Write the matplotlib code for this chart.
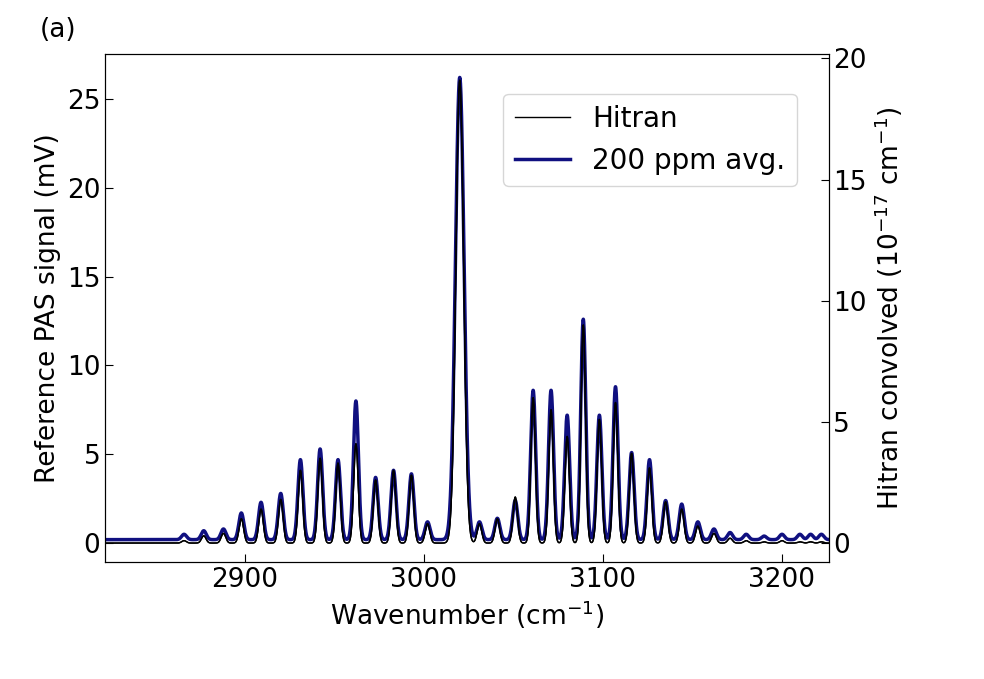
import numpy as np
import matplotlib
matplotlib.use("Agg")
import matplotlib.pyplot as plt

# peak centres (cm-1), PAS peak heights (mV), Hitran heights (1e-17 cm-1)
centers = [2866, 2877, 2888, 2898, 2909, 2920, 2931, 2942, 2952, 2962, 2973, 2983,
           2993, 3002, 3020, 3031, 3041, 3051, 3061, 3071, 3080, 3089, 3098, 3107,
           3116, 3126, 3135, 3144, 3153, 3162, 3171, 3180, 3190, 3200, 3210, 3216, 3222]
pas_mv = [0.3, 0.5, 0.6, 1.5, 2.1, 2.6, 4.5, 5.1, 4.5, 7.8, 3.5, 3.9,
          3.7, 1.0, 26.0, 1.0, 1.2, 2.2, 8.4, 8.4, 7.0, 12.4, 7.0, 8.6,
          4.9, 4.5, 2.2, 2.0, 1.0, 0.6, 0.4, 0.3, 0.2, 0.3, 0.3, 0.3, 0.3]
hitran = [0.1, 0.3, 0.4, 1.0, 1.4, 1.8, 3.0, 3.5, 3.3, 4.1, 2.6, 3.0,
          2.8, 0.8, 19.1, 0.8, 1.0, 1.9, 6.0, 5.5, 4.4, 9.0, 5.1, 5.8,
          3.7, 3.1, 1.7, 1.4, 0.7, 0.4, 0.2, 0.1, 0.05, 0.1, 0.05, 0.05, 0.05]
widths = [1.4] * len(centers)
widths[14] = 2.4

x = np.linspace(2820, 3226, 6000)


def spectrum(heights, base, w_scale):
    y = np.full_like(x, base)
    for c, h, w in zip(centers, heights, widths):
        y += h * np.exp(-0.5 * ((x - c) / (w * w_scale)) ** 2)
    return y


plt.rcParams["font.size"] = 19
fig, ax = plt.subplots(figsize=(9.84, 6.79), dpi=100)
fig.subplots_adjust(left=0.107, right=0.842, top=0.92, bottom=0.172)
ax2 = ax.twinx()

l1, = ax2.plot(x, spectrum(hitran, 0.0, 0.9), color="black", lw=1.0, label="Hitran")
l2, = ax.plot(x, spectrum(pas_mv, 0.2, 1.0), color="#101080", lw=2.5, label="200 ppm avg.")
ax2.plot(x, spectrum(hitran, 0.0, 0.9), color="black", lw=1.0)

ax.set_xlim(2822, 3226)
ax.set_ylim(-1.07, 27.5)
ax2.set_ylim(-0.79, 20.17)
ax.set_xticks([2900, 3000, 3100, 3200])
ax.set_yticks([0, 5, 10, 15, 20, 25])
ax2.set_yticks([0, 5, 10, 15, 20])
ax.tick_params(direction="in", length=6)
ax2.tick_params(direction="in", length=6)
ax.set_xlabel("Wavenumber (cm$^{-1}$)")
ax.set_ylabel("Reference PAS signal (mV)")
ax2.set_ylabel("Hitran convolved (10$^{-17}$ cm$^{-1}$)")
ax.legend(handles=[l1, l2], loc="upper right", bbox_to_anchor=(0.975, 0.95), fontsize=20)
fig.text(0.04, 0.945, "(a)")

fig.savefig("out.png", dpi=100)
